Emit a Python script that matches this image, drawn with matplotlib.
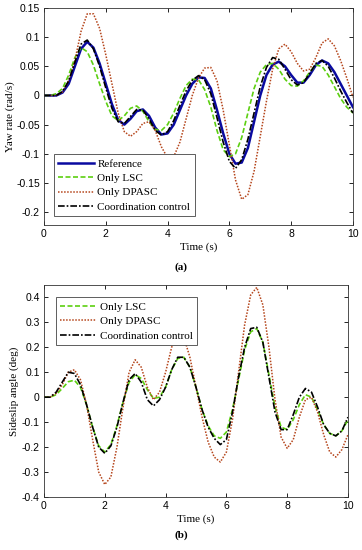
import numpy as np
import matplotlib
matplotlib.use("Agg")
import matplotlib.pyplot as plt

# time grid shared by all series (s)
t = np.round(np.arange(0, 10.01, 0.2), 1)

# (a) yaw rate, rad/s
yaw_ref = [0, 0, 0, 0.005, 0.02, 0.05, 0.08, 0.092, 0.082, 0.055,
           0.02, -0.015, -0.042, -0.05, -0.04, -0.027, -0.024, -0.035, -0.055, -0.067,
           -0.065, -0.05, -0.025, 0.0, 0.02, 0.031, 0.03, 0.012, -0.025, -0.065,
           -0.1, -0.117, -0.115, -0.09, -0.045, 0.0, 0.035, 0.053, 0.058, 0.05,
           0.035, 0.022, 0.022, 0.035, 0.052, 0.06, 0.055, 0.04, 0.02, 0.0,
           -0.02]
yaw_lsc = [0, 0, 0.003, 0.012, 0.035, 0.065, 0.082, 0.075, 0.052, 0.02,
           -0.01, -0.035, -0.043, -0.035, -0.022, -0.018, -0.027, -0.045, -0.058, -0.06,
           -0.05, -0.03, -0.005, 0.017, 0.028, 0.027, 0.01, -0.02, -0.06, -0.093,
           -0.105, -0.1, -0.072, -0.03, 0.012, 0.04, 0.053, 0.055, 0.045, 0.028,
           0.017, 0.016, 0.025, 0.04, 0.052, 0.05, 0.035, 0.015, -0.005, -0.02,
           -0.03]
yaw_dpasc = [0, 0, 0, 0.006, 0.025, 0.06, 0.11, 0.14, 0.14, 0.115,
             0.07, 0.02, -0.03, -0.062, -0.07, -0.062, -0.048, -0.045, -0.06, -0.088,
             -0.107, -0.105, -0.08, -0.04, 0.0, 0.03, 0.047, 0.048, 0.025, -0.025,
             -0.085, -0.145, -0.178, -0.17, -0.13, -0.07, -0.01, 0.045, 0.08, 0.088,
             0.075, 0.055, 0.042, 0.045, 0.065, 0.09, 0.097, 0.085, 0.06, 0.03,
             -0.003]
yaw_coord = [0, 0, 0, 0.007, 0.025, 0.057, 0.088, 0.095, 0.08, 0.05,
             0.013, -0.022, -0.045, -0.048, -0.036, -0.024, -0.025, -0.04, -0.06, -0.068,
             -0.062, -0.043, -0.017, 0.008, 0.026, 0.034, 0.027, 0.003, -0.038, -0.08,
             -0.113, -0.125, -0.11, -0.075, -0.03, 0.015, 0.048, 0.065, 0.062, 0.045,
             0.027, 0.018, 0.022, 0.038, 0.055, 0.06, 0.05, 0.03, 0.008, -0.012,
             -0.03]

# (b) sideslip angle, deg
beta_lsc = [0, 0, 0.01, 0.035, 0.062, 0.068, 0.04, -0.03, -0.12, -0.195,
            -0.22, -0.19, -0.115, -0.02, 0.06, 0.09, 0.075, 0.03, -0.005, 0.0,
            0.04, 0.11, 0.155, 0.16, 0.12, 0.04, -0.05, -0.115, -0.155, -0.165,
            -0.14, -0.05, 0.07, 0.19, 0.262, 0.275, 0.22, 0.09, -0.04, -0.12,
            -0.13, -0.09, -0.03, 0.01, 0.0, -0.05, -0.11, -0.145, -0.155, -0.135,
            -0.09]
beta_dpasc = [0, 0, 0.015, 0.05, 0.1, 0.11, 0.07, -0.03, -0.17, -0.3,
              -0.35, -0.32, -0.2, -0.04, 0.1, 0.15, 0.12, 0.04, -0.01, 0.02,
              0.1, 0.2, 0.255, 0.24, 0.16, 0.04, -0.08, -0.18, -0.24, -0.26,
              -0.22, -0.09, 0.1, 0.29, 0.41, 0.44, 0.37, 0.2, -0.01, -0.16,
              -0.205, -0.17, -0.08, -0.01, 0.0, -0.06, -0.15, -0.22, -0.24, -0.21,
              -0.15]
beta_coord = [0, 0, 0.02, 0.06, 0.1, 0.095, 0.05, -0.03, -0.12, -0.2,
              -0.225, -0.195, -0.12, -0.02, 0.07, 0.095, 0.06, -0.01, -0.035, -0.01,
              0.04, 0.11, 0.16, 0.16, 0.12, 0.04, -0.05, -0.12, -0.165, -0.19,
              -0.17, -0.06, 0.08, 0.2, 0.275, 0.28, 0.22, 0.08, -0.06, -0.13,
              -0.13, -0.07, 0.0, 0.035, 0.02, -0.04, -0.11, -0.145, -0.155, -0.135,
              -0.08]

yaw_ticks = [-0.2, -0.15, -0.1, -0.05, 0, 0.05, 0.1, 0.15]
yaw_ticklabels = ["-0.2", "-0.15", "-0.1", "-0.05", "0", "0.05", "0.1", "0.15"]
beta_ticks = [-0.4, -0.3, -0.2, -0.1, 0, 0.1, 0.2, 0.3, 0.4]
beta_ticklabels = ["-0.4", "-0.3", "-0.2", "-0.1", "0", "0.1", "0.2", "0.3", "0.4"]
time_ticks = [0, 2, 4, 6, 8, 10]

BLUE = "#0a0aa0"
GREEN = "#5ccf10"
RED = "#b5451b"
SERIF = "Liberation Serif"
SANS = "Liberation Sans"


def style_axes(ax, yticks, yticklabels):
    ax.set_xlim(0, 10)
    ax.set_xticks(time_ticks)
    ax.set_xticklabels([str(v) for v in time_ticks], fontfamily=SANS, fontsize=7.5)
    ax.set_yticks(yticks)
    ax.set_yticklabels(yticklabels, fontfamily=SANS, fontsize=7.5)
    ax.tick_params(direction="in", top=True, right=True, length=3, width=0.6, pad=3)
    for s in ax.spines.values():
        s.set_linewidth(0.6)
        s.set_color("#333333")
    ax.set_xlabel("Time (s)", fontfamily=SERIF, fontsize=8, labelpad=2)


def add_legend(ax, loc, anchor):
    leg = ax.legend(loc=loc, bbox_to_anchor=anchor, fancybox=False,
                    framealpha=1, edgecolor="#444444", handlelength=3.2,
                    handletextpad=0.35, labelspacing=0.42, borderpad=0.4,
                    prop={"family": SERIF, "size": 8})
    leg.get_frame().set_linewidth(0.6)
    return leg


fig = plt.figure(figsize=(3.62, 5.5), dpi=100)

ax1 = fig.add_axes([0.1215, 0.591, 0.8535, 0.3945])
ax1.plot(t, yaw_ref, color=BLUE, lw=1.8, label="Reference")
ax1.plot(t, yaw_lsc, color=GREEN, lw=1.2, ls=(0, (3, 1.5)), label="Only LSC")
ax1.plot(t, yaw_dpasc, color=RED, lw=1.1, ls=(0, (1, 1)), label="Only DPASC")
ax1.plot(t, yaw_coord, color="black", lw=1.2, ls=(0, (4, 1.2, 1, 1.2)),
         label="Coordination control")
ax1.set_ylim(-0.222, 0.15)
style_axes(ax1, yaw_ticks, yaw_ticklabels)
ax1.set_ylabel("Yaw rate (rad/s)", fontfamily=SERIF, fontsize=8, labelpad=1)
add_legend(ax1, "lower left", (0.013, 0.014))
fig.text(0.5, 1 - 267 / 550, "(a)", ha="center", va="center",
         fontfamily=SERIF, fontsize=8, fontweight="bold")

ax2 = fig.add_axes([0.1215, 0.0964, 0.8398, 0.3856])
ax2.plot(t, beta_lsc, color=GREEN, lw=1.2, ls=(0, (3, 1.5)), label="Only LSC")
ax2.plot(t, beta_dpasc, color=RED, lw=1.1, ls=(0, (1, 1)), label="Only DPASC")
ax2.plot(t, beta_coord, color="black", lw=1.2, ls=(0, (4, 1.2, 1, 1.2)),
         label="Coordination control")
ax2.set_ylim(-0.4, 0.45)
style_axes(ax2, beta_ticks, beta_ticklabels)
ax2.set_ylabel("Sideslip angle (deg)", fontfamily=SERIF, fontsize=8, labelpad=2)
add_legend(ax2, "upper left", (0.02, 0.967))
fig.text(0.5, 1 - 535 / 550, "(b)", ha="center", va="center",
         fontfamily=SERIF, fontsize=8, fontweight="bold")

fig.savefig("out.png", dpi=100)
